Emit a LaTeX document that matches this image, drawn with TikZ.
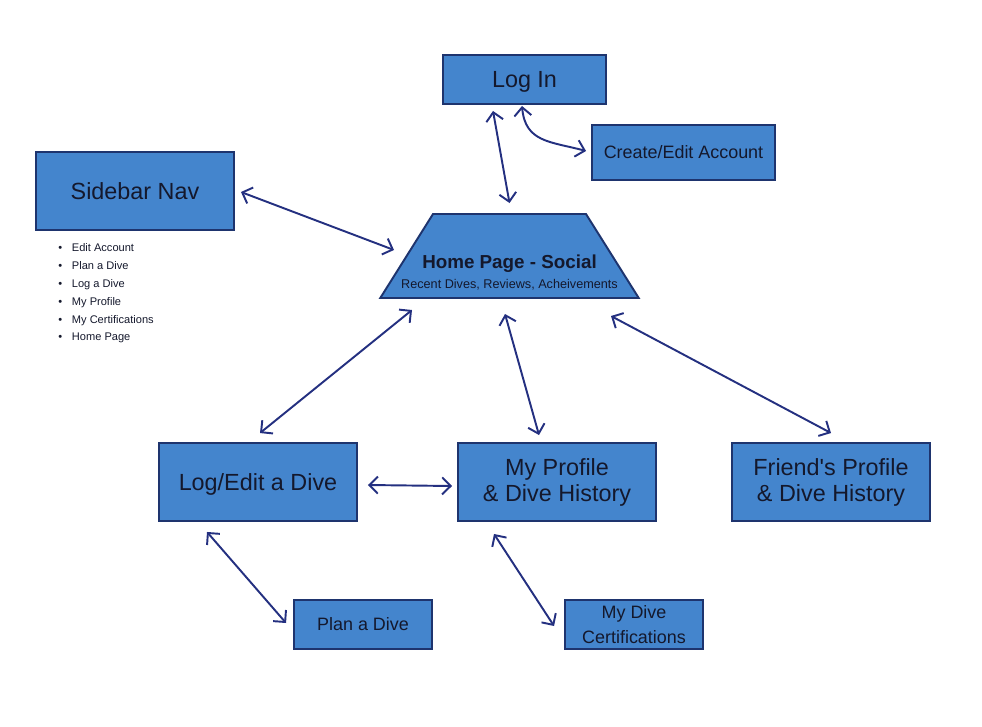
\documentclass[tikz,border=0pt]{standalone}
\usepackage{fontspec}
\setmainfont{Liberation Sans}
\usepackage{tikz}
\usetikzlibrary{shapes.geometric,arrows.meta,positioning,calc}
\definecolor{pageblue}{RGB}{68,133,205}
\definecolor{pagenavy}{RGB}{30,52,110}
\definecolor{linknavy}{RGB}{36,48,128}
\definecolor{textdark}{RGB}{20,24,44}
\tikzset{
  page/.style     ={rectangle, draw=pagenavy, fill=pageblue, line width=1.1pt,
                    text=textdark, align=center, inner sep=2pt},
  bigpage/.style  ={page, minimum width=3.96cm, minimum height=1.56cm,
                    font=\fontsize{13.3}{14.8}\selectfont},
  smallpage/.style={page, minimum width=2.76cm, minimum height=0.98cm,
                    font=\fontsize{10.2}{14.2}\selectfont},
  homepage/.style ={trapezium, trapezium angle=53.13, trapezium stretches=true,
                    draw=pagenavy, fill=pageblue, line width=1.1pt,
                    minimum width=5.18cm, minimum height=1.68cm, inner sep=1pt},
  link/.style     ={{Straight Barb[length=1.7mm,width=3.4mm]}-{Straight Barb[length=1.7mm,width=3.4mm]},
                    line width=1.1pt, draw=linknavy},
  navlist/.style  ={align=left, inner sep=0pt, text=textdark,
                    font=\fontsize{6.3}{10.2}\selectfont}
}

\begin{document}
\begin{tikzpicture}
\useasboundingbox (0,0) rectangle (19.64,-14.52);

% Top row: login and account
\node[page, minimum width=3.26cm, minimum height=0.98cm, text depth=0pt,
      font=\fontsize{13.3}{14.8}\selectfont] (login) at (10.49,-1.59) {Log In};
\node[page, minimum width=3.66cm, minimum height=1.10cm,
      font=\fontsize{10.2}{12.6}\selectfont] (create) at (13.67,-3.05) {Create/Edit Account};

% Sidebar and its menu
\node[bigpage] (sidebar) at (2.70,-3.82) {Sidebar Nav};
\node[navlist, anchor=north west] (navitems) at ([xshift=0.46cm,yshift=-0.24cm]sidebar.south west)
  {\textbullet\hspace{5.5pt}Edit Account\\
   \textbullet\hspace{5.5pt}Plan a Dive\\
   \textbullet\hspace{5.5pt}Log a Dive\\
   \textbullet\hspace{5.5pt}My Profile\\
   \textbullet\hspace{5.5pt}My Certifications\\
   \textbullet\hspace{5.5pt}Home Page};

% Home page (trapezium)
\node[homepage] (home) at (10.19,-5.12) {\hspace*{1cm}\strut};
\node[text=textdark, font=\fontsize{10.7}{12}\selectfont\bfseries] (hometitle)
  at ([yshift=-0.16cm]home.center) {Home Page - Social};
\node[text=textdark, font=\fontsize{7.2}{8}\selectfont] (homesub)
  at ([yshift=-0.58cm]home.center) {Recent Dives, Reviews, Acheivements};

% Middle row
\node[bigpage, text depth=0pt] (logdive) at (5.16,-9.64) {Log/Edit a Dive};
\node[bigpage] (myprofile) at (11.14,-9.64) {My Profile\\\& Dive History};
\node[bigpage] (friend) at (16.62,-9.64) {Friend\textquotesingle s Profile\\\& Dive History};

% Bottom row
\node[smallpage] (plan) at (7.26,-12.49) {Plan a Dive};
\node[smallpage] (certs) at (12.68,-12.49) {My Dive\\Certifications};

% Links
\draw[link] ([xshift=-0.63cm,yshift=-0.12cm]login.south) -- ([yshift=0.2cm]home.north);
\draw[link] ([xshift=-0.05cm,yshift=-0.02cm]login.south)
  to[out=-85,in=165,looseness=1.2] ([xshift=-0.1cm,yshift=0.03cm]create.west);
\draw[link] ([xshift=0.12cm,yshift=-0.02cm]sidebar.east) -- ($(home.center)+(-2.31,0.12)$);
\draw[link] ($(home.center)+(-1.95,-1.08)$) -- ([xshift=0.04cm,yshift=0.18cm]logdive.north);
\draw[link] ($(home.center)+(-0.09,-1.16)$) -- ([xshift=-0.36cm,yshift=0.14cm]myprofile.north);
\draw[link] ($(home.center)+(2.03,-1.20)$) -- ([yshift=0.18cm]friend.north);
\draw[link] ([xshift=0.2cm,yshift=-0.06cm]logdive.east) -- ([xshift=-0.1cm,yshift=-0.08cm]myprofile.west);
\draw[link] ([xshift=-1.02cm,yshift=-0.2cm]logdive.south) -- ([xshift=-0.14cm,yshift=0.03cm]plan.west);
\draw[link] ([xshift=-1.26cm,yshift=-0.24cm]myprofile.south) -- ([xshift=-0.2cm,yshift=-0.03cm]certs.west);
\end{tikzpicture}
\end{document}
